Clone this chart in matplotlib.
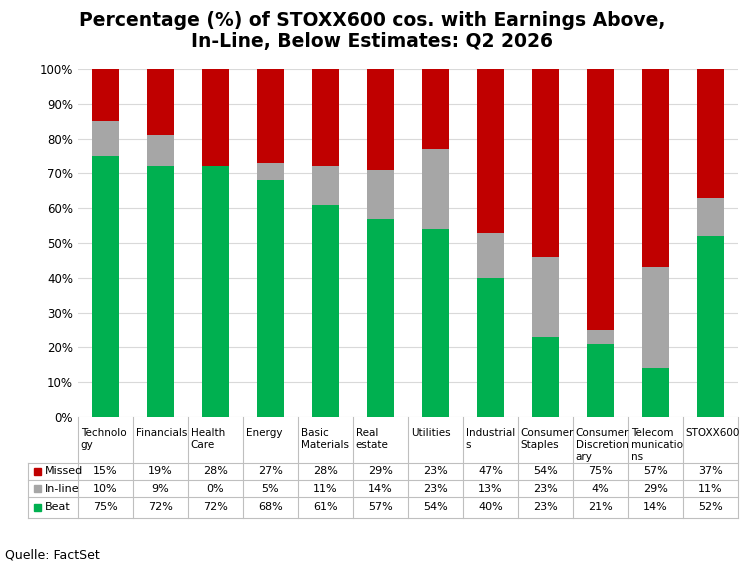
import matplotlib
matplotlib.use("Agg")
import matplotlib.pyplot as plt
from matplotlib.transforms import blended_transform_factory
from matplotlib.patches import Rectangle
import numpy as np

categories = ["Technolo\ngy", "Financials", "Health\nCare", "Energy", "Basic\nMaterials",
              "Real\nestate", "Utilities", "Industrial\ns", "Consumer\nStaples",
              "Consumer\nDiscretion\nary", "Telecom\nmunicatio\nns", "STOXX600"]
beat = [75, 72, 72, 68, 61, 57, 54, 40, 23, 21, 14, 52]
inline = [10, 9, 0, 5, 11, 14, 23, 13, 23, 4, 29, 11]
missed = [15, 19, 28, 27, 28, 29, 23, 47, 54, 75, 57, 37]

c_beat, c_in, c_miss = "#00b050", "#a6a6a6", "#c00000"
W, H = 744, 567

fig = plt.figure(figsize=(W / 100, H / 100), dpi=100)
ax = fig.add_axes([78 / W, 1 - 417 / H, 660 / W, 348 / H])
x = np.arange(len(categories))
b = np.array(beat)
i = np.array(inline)
ax.bar(x, beat, 0.5, color=c_beat, zorder=3)
ax.bar(x, inline, 0.5, bottom=b, color=c_in, zorder=3)
ax.bar(x, missed, 0.5, bottom=b + i, color=c_miss, zorder=3)
ax.set_xlim(-0.5, len(categories) - 0.5)
ax.set_ylim(0, 100)
ax.set_yticks(range(0, 101, 10))
ax.set_yticklabels([f"{v}%" for v in range(0, 101, 10)], fontsize=8.5)
ax.set_xticks([])
ax.grid(axis="y", color="#d9d9d9", lw=0.8, zorder=0)
for s in ax.spines.values():
    s.set_visible(False)
ax.tick_params(axis="y", length=0)

fig.text(0.5, 1 - 31 / H, "Percentage (%) of STOXX600 cos. with Earnings Above,\nIn-Line, Below Estimates: Q2 2026",
         ha="center", va="center", fontsize=13.5, fontweight="bold", linespacing=1.15)

# data table below the axes
tr = blended_transform_factory(ax.transData, fig.transFigure)
lc = "#bfbfbf"
xl = -0.5 - 50 / 55
yy = lambda p: 1 - p / H
n = len(categories)
for k in range(n + 1):
    ax.plot([k - 0.5, k - 0.5], [yy(417), yy(518)], color=lc, lw=0.8, transform=tr, clip_on=False)
ax.plot([xl, xl], [yy(463), yy(518)], color=lc, lw=0.8, transform=tr, clip_on=False)
for p in [463, 480, 497, 518]:
    ax.plot([xl, n - 0.5], [yy(p), yy(p)], color=lc, lw=0.8, transform=tr, clip_on=False)
for k, c in enumerate(categories):
    ax.text(k - 0.45, yy(428), c, transform=tr, ha="left", va="top", fontsize=7.5, linespacing=1.25)
rows = [("Missed", missed, c_miss, 471.5), ("In-line", inline, c_in, 488.5), ("Beat", beat, c_beat, 507.5)]
for name, vals, col, p in rows:
    ax.add_patch(Rectangle((xl + 0.1, yy(p) - 3.5 / H), 0.13, 7 / H, color=col, transform=tr, clip_on=False))
    ax.text(xl + 0.3, yy(p), name, transform=tr, ha="left", va="center", fontsize=8)
    for k, v in enumerate(vals):
        ax.text(k, yy(p), f"{v}%", transform=tr, ha="center", va="center", fontsize=8)

fig.text(5 / W, yy(555), "Quelle: FactSet", fontsize=9, va="center")
fig.savefig("out.png", dpi=100)
